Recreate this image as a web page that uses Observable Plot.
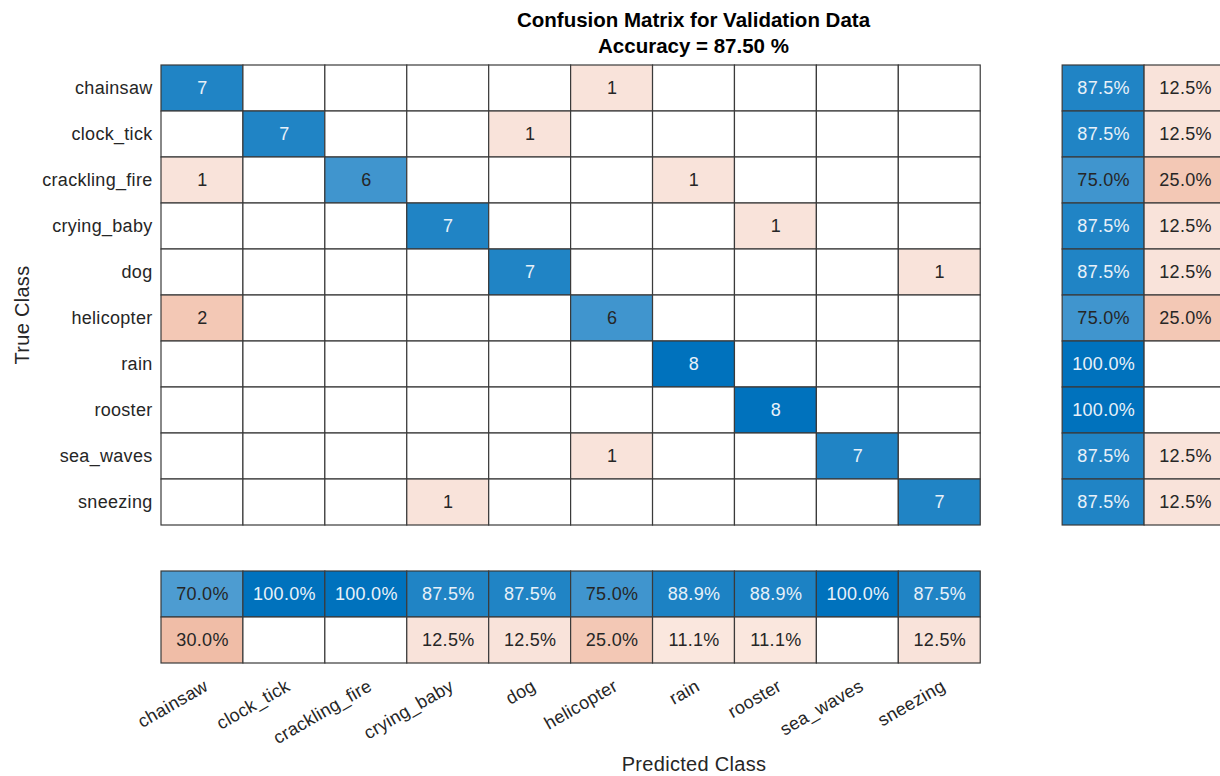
<!DOCTYPE html>
<html>
<head>
<meta charset="utf-8">
<script src="https://cdn.jsdelivr.net/npm/d3@7"></script>
<script src="https://cdn.jsdelivr.net/npm/@observablehq/plot@0.6"></script>
<style>
  html, body { margin: 0; padding: 0; background: #fff; overflow: hidden; width: 1220px; }
  #title { position: relative; height: 60px; font-family: "Liberation Sans", Arial, sans-serif; }
  #title div { position: absolute; left: 161px; width: 1065px; text-align: center; font-weight: bold; font-size: 20.5px; color: #000; line-height: 26px; }
  #chart svg { max-width: none !important; }
</style>
</head>
<body>
<div id="title">
  <div style="top:7px">Confusion Matrix for Validation Data</div>
  <div style="top:33px">Accuracy = 87.50 %</div>
</div>
<div id="chart"></div>
<script>
const classes = ["chainsaw","clock_tick","crackling_fire","crying_baby","dog","helicopter","rain","rooster","sea_waves","sneezing"];
// rows = true class, columns = predicted class
const counts = [
  [7,0,0,0,0,1,0,0,0,0],
  [0,7,0,0,1,0,0,0,0,0],
  [1,0,6,0,0,0,1,0,0,0],
  [0,0,0,7,0,0,0,1,0,0],
  [0,0,0,0,7,0,0,0,0,1],
  [2,0,0,0,0,6,0,0,0,0],
  [0,0,0,0,0,0,8,0,0,0],
  [0,0,0,0,0,0,0,8,0,0],
  [0,0,0,0,0,1,0,0,7,0],
  [0,0,0,1,0,0,0,0,0,7]
];
const rowCorrect = [87.5,87.5,75.0,87.5,87.5,75.0,100.0,100.0,87.5,87.5];
const rowWrong   = [12.5,12.5,25.0,12.5,12.5,25.0,0,0,12.5,12.5];
const colCorrect = [70.0,100.0,100.0,87.5,87.5,75.0,88.9,88.9,100.0,87.5];
const colWrong   = [30.0,0,0,12.5,12.5,25.0,11.1,11.1,0,12.5];
const maxCount = 8;

const cells = [];
counts.forEach((row, i) => row.forEach((v, j) => {
  cells.push({col: j, row: i, s: (i === j ? 1 : -1) * v / maxCount, label: v > 0 ? String(v) : ""});
}));
classes.forEach((c, i) => {
  cells.push({col: 11, row: i, s: rowCorrect[i] / 100, label: rowCorrect[i] > 0 ? rowCorrect[i].toFixed(1) + "%" : ""});
  cells.push({col: 12, row: i, s: -rowWrong[i] / 100, label: rowWrong[i] > 0 ? rowWrong[i].toFixed(1) + "%" : ""});
  cells.push({col: i, row: 11, s: colCorrect[i] / 100, label: colCorrect[i] > 0 ? colCorrect[i].toFixed(1) + "%" : ""});
  cells.push({col: i, row: 12, s: -colWrong[i] / 100, label: colWrong[i] > 0 ? colWrong[i].toFixed(1) + "%" : ""});
});

const font = "'Liberation Sans', Arial, sans-serif";
const chart = Plot.plot({
  width: 1226,
  height: 716,
  marginLeft: 161,
  marginRight: 0,
  marginTop: 5,
  marginBottom: 113,
  style: {fontFamily: font, fontSize: "18px", background: "#fff", color: "#262626", maxWidth: "none", letterSpacing: "0.3px"},
  x: {domain: [0, 13], axis: null},
  y: {domain: [13, 0], axis: null},
  color: {type: "linear", domain: [-0.78, 0, 1], range: ["#d95319", "#ffffff", "#0072bd"], interpolate: "rgb"},
  marks: [
    Plot.rect(cells, {x1: "col", x2: d => d.col + 1, y1: "row", y2: d => d.row + 1, fill: "s", stroke: "#3a3a3a", strokeWidth: 1.2}),
    Plot.text(cells.filter(d => d.s > 0.8), {x: d => d.col + 0.5, y: d => d.row + 0.5, text: "label", fill: "#e8f1f9", fontSize: 18}),
    Plot.text(cells.filter(d => d.s <= 0.8), {x: d => d.col + 0.5, y: d => d.row + 0.5, text: "label", fill: "#262626", fontSize: 18}),
    Plot.text(classes, {x: 0, y: (d, i) => i + 0.5, text: d => d, textAnchor: "end", dx: -9, fill: "#262626", fontSize: 18}),
    Plot.text(classes, {x: (d, i) => i + 0.5, y: 13, text: d => d, textAnchor: "end", rotate: -30, dx: 4, dy: 21, fill: "#262626", fontSize: 18}),
    Plot.text(["True Class"], {frameAnchor: "left", text: d => d, rotate: -90, dx: -139, fill: "#262626", fontSize: 20}),
    Plot.text(["Predicted Class"], {frameAnchor: "bottom", text: d => d, dy: 107, fill: "#262626", fontSize: 20})
  ]
});
document.getElementById("chart").appendChild(chart);
</script>
</body>
</html>
